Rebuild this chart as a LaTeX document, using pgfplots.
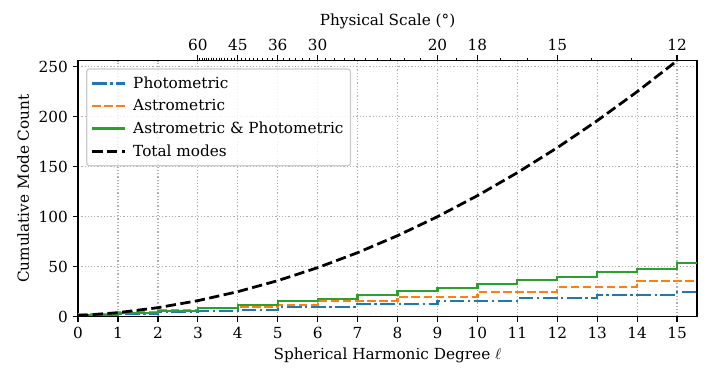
\documentclass[border=0pt]{standalone}
\usepackage{fontspec}
\setmainfont{DejaVu Serif}
\usepackage{pgfplots}
\pgfplotsset{compat=1.18}
\definecolor{mblue}{HTML}{1F77B4}
\definecolor{morange}{HTML}{FF7F0E}
\definecolor{mgreen}{HTML}{2CA02C}
\definecolor{mgrid}{HTML}{B0B0B0}
\definecolor{mleg}{HTML}{CCCCCC}
\begin{document}
\begin{tikzpicture}[font=\fontsize{11}{13}\selectfont]
\begin{axis}[name=main,
 scale only axis, width=445.7pt, height=184.3pt,
 xmin=0, xmax=15.5, ymin=0, ymax=256,
 xtick={0,...,15}, ytick={0,50,...,250},
 xtick pos=bottom, ytick pos=left,
 tick align=outside, major tick length=3.85pt,
 every tick/.style={black, line width=0.88pt},
 axis line style={line width=0.88pt},
 grid=major, major grid style={mgrid, line width=0.88pt, dash pattern=on 0.88pt off 1.45pt},
 xlabel={Spherical Harmonic Degree $\ell$},
 ylabel={Cumulative Mode Count},
 /pgf/number format/assume math mode=true,
 tick label style={font=\fontsize{11}{13}\selectfont},
 label style={font=\fontsize{11}{13}\selectfont},
 legend cell align=left,
 legend style={at={(0.013,0.97)}, anchor=north west, draw=mleg, rounded corners=2pt,
   fill=white, fill opacity=0.8, text opacity=1, line width=0.88pt,
   font=\fontsize{11}{13}\selectfont, row sep=2.5pt, column sep=3pt, inner xsep=3pt, inner ysep=3.5pt},
 legend image code/.code={\draw[#1] (0pt,0pt) -- (23.5pt,0pt);},
]
\addplot[mblue, line width=1.65pt, dash pattern=on 10.5pt off 2.6pt on 1.65pt off 2.6pt, const plot] coordinates {
(0,2) (1,3) (2,5) (3,6) (4,7) (5,10) (6,10) (7,13) (8,13) (9,16) (10,16) (11,19) (12,19) (13,22) (14,22) (15,25) (16,25)};
\addlegendentry{Photometric}
\addplot[morange, line width=1.65pt, dash pattern=on 6.1pt off 2.6pt, const plot] coordinates {
(0,3) (1,5) (2,7) (3,9) (4,10) (5,12) (6,16) (7,16) (8,20) (9,20) (10,25) (11,25) (12,30) (13,30) (14,36) (15,36) (16,36)};
\addlegendentry{Astrometric}
\addplot[mgreen, line width=1.65pt, const plot] coordinates {
(0,2) (1,4) (2,6) (3,9) (4,12) (5,16) (6,18) (7,22) (8,26) (9,29) (10,33) (11,37) (12,40) (13,45) (14,48) (15,54) (16,54)};
\addlegendentry{Astrometric \& Photometric}
\addplot[black, line width=2pt, dash pattern=on 7.4pt off 3.2pt] coordinates {
(0,1) (1,4) (2,9) (3,16) (4,25) (5,36) (6,49) (7,64) (8,81) (9,100) (10,121) (11,144) (12,169) (13,196) (14,225) (15,256)};
\addlegendentry{Total modes}
\end{axis}
\begin{axis}[
 scale only axis, width=445.7pt, height=184.3pt,
 xmin=0, xmax=15.5, ymin=0, ymax=256,
 axis x line*=top, axis y line=none,
 xtick={3,4,5,6,9,10,12,15}, xticklabels={60,45,36,30,20,18,15,12},
 minor xtick={3.0508,3.1034,3.1579,3.2143,3.2727,3.3333,3.3962,3.4615,3.5294,3.6,3.6735,3.75,3.8298,3.9130,4.0909,4.1860,4.2857,4.3902,4.5,4.6154,4.7368,4.8649,5.1429,5.2941,5.4545,5.625,5.8065,6.2069,6.4286,6.6667,6.9231,7.2,7.5,7.8261,8.1818,8.5714,9.4737,10.5882,11.25,12.8571,13.8462},
 tick align=outside, major tick length=3.85pt, minor tick length=2.2pt,
 every tick/.style={black, line width=0.88pt},
 every minor tick/.style={black, line width=0.66pt},
 axis line style={line width=0.88pt},
 xlabel={Physical Scale (°)},
 tick label style={font=\fontsize{11}{13}\selectfont},
 label style={font=\fontsize{11}{13}\selectfont},
]
\addplot[draw=none] coordinates {(0,0)};
\end{axis}
\path ([xshift=-56.2pt,yshift=-48.5pt]main.south west) rectangle ([xshift=12.2pt,yshift=43.7pt]main.north east);
\end{tikzpicture}
\end{document}
